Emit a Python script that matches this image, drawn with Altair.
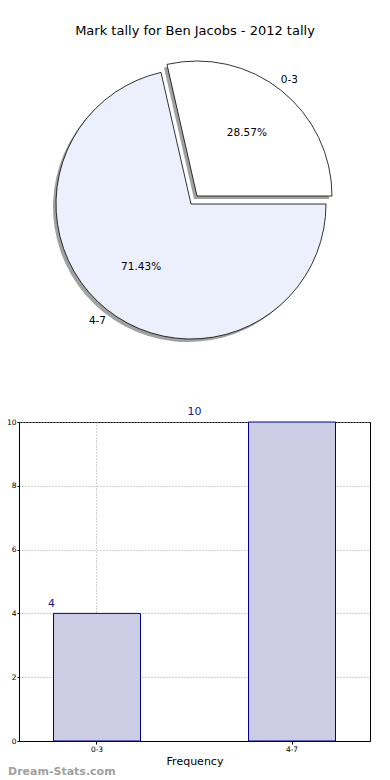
import math
import altair as alt
import pandas as pd

# ---- data ----
labels = ["0-3", "4-7"]
counts = [4, 10]
percents = ["28.57%", "71.43%"]
pie_colors = ["#FFFFFF", "#EBF0FC"]
title_text = "Mark tally for Ben Jacobs - 2012 tally"
y_ticks = [0, 2, 4, 6, 8, 10]

total = sum(counts)
df = pd.DataFrame({"label": labels, "count": counts, "pct": percents, "color": pie_colors})

FONT = "DejaVu Sans"
R = 135
CX, CY = 172, 195          # pie centre inside the panel
EX, EY = 6, -8             # explode offset of the small slice
SX, SY = -3, 3             # shadow offset

theta_scale = alt.Scale(domain=[0, total], range=[math.pi / 2, math.pi / 2 + 2 * math.pi])

base = alt.Chart(df).transform_window(
    end="sum(count)",
    sort=[alt.SortField("label", order="descending")],
    frame=[None, 0],
).transform_calculate(
    start="datum.end - datum.count",
    mid="(datum.end + datum.end - datum.count) / 2",
)

def arc_layer(lbl, cx, cy, shadow=False):
    b = base.transform_filter(alt.datum.label == lbl)
    if shadow:
        return b.mark_arc(radius=R, fill="#8a8a8a", opacity=0.8).encode(
            theta=alt.Theta("start:Q", scale=theta_scale),
            theta2="end:Q",
            x=alt.value(cx + SX), y=alt.value(cy + SY),
        )
    return b.mark_arc(radius=R, stroke="black", strokeWidth=0.8).encode(
        theta=alt.Theta("start:Q", scale=theta_scale),
        theta2="end:Q",
        fill=alt.Fill("color:N", scale=None),
        x=alt.value(cx), y=alt.value(cy),
    )

def text_layer(lbl, cx, cy, field, radius):
    b = base.transform_filter(alt.datum.label == lbl)
    return b.mark_text(font=FONT, fontSize=10.5, color="black").encode(
        theta=alt.Theta("mid:Q", scale=theta_scale),
        radius=alt.value(radius),
        text=f"{field}:N",
        x=alt.value(cx), y=alt.value(cy),
    )

title_layer = alt.Chart(pd.DataFrame({"t": [title_text]})).mark_text(
    font=FONT, fontSize=13, color="black"
).encode(text="t:N", x=alt.value(176), y=alt.value(22))

pie = alt.layer(
    arc_layer("4-7", CX, CY, shadow=True),
    arc_layer("0-3", CX + EX, CY + EY, shadow=True),
    arc_layer("4-7", CX, CY),
    arc_layer("0-3", CX + EX, CY + EY),
    text_layer("4-7", CX, CY, "pct", 80),
    text_layer("0-3", CX + EX, CY + EY, "pct", 80),
    text_layer("4-7", CX, CY, "label", 150),
    text_layer("0-3", CX + EX, CY + EY, "label", 148),
    title_layer,
).properties(width=351, height=380, view=alt.ViewConfig(stroke="transparent"))

# ---- bar chart ----
bar_df = pd.DataFrame({"label": labels, "count": counts})
xscale = alt.Scale(domain=labels, paddingInner=0.554, paddingOuter=0.177)
yscale = alt.Scale(domain=[0, 10])

bb = alt.Chart(bar_df)
bars = bb.mark_bar(fill="#CCCCE5", stroke="#00008B", strokeWidth=1).encode(
    x=alt.X("label:N", scale=xscale, sort=labels,
            axis=alt.Axis(title="Frequency", labelAngle=0, grid=True, bandPosition=0.5,
                          titleFontSize=11, titlePadding=3, tickSize=3)),
    y=alt.Y("count:Q", scale=yscale,
            axis=alt.Axis(title=None, values=y_ticks, grid=True, tickSize=2)),
)

def bar_label(lbl, dx, dy):
    return bb.transform_filter(alt.datum.label == lbl).mark_text(
        font=FONT, fontSize=11, color="#1a1a8a", dx=dx, dy=dy
    ).encode(
        x=alt.X("label:N", scale=xscale, bandPosition=0),
        y=alt.Y("count:Q", scale=yscale),
        text="count:Q",
    )

watermark = alt.Chart(pd.DataFrame({"w": ["Dream-Stats.com"]})).mark_text(
    font=FONT, fontSize=11, color="#a0a0a0", fontWeight="bold", align="left"
).encode(text="w:N", x=alt.value(-11), y=alt.value(350))

bar_chart = alt.layer(
    bars,
    bar_label("0-3", -2, -9),
    bar_label("4-7", -54, -10),
    watermark,
).properties(width=351, height=319, view=alt.ViewConfig(stroke="black", strokeWidth=1))

chart = alt.vconcat(pie, bar_chart, spacing=33, bounds="flush").configure(
    font=FONT,
    padding={"left": -3, "top": 0, "right": 0, "bottom": 0},
).configure_axis(
    labelFont=FONT, labelFontSize=7.5, labelColor="black",
    titleFont=FONT, titleFontWeight="normal", titleColor="black",
    domainColor="black", tickColor="black", labelPadding=1,
    gridColor="#a0a0a0", gridDash=[1, 2], gridWidth=1, zindex=1,
)

chart.save("out.html", embed_options={"renderer": "svg", "actions": False})
